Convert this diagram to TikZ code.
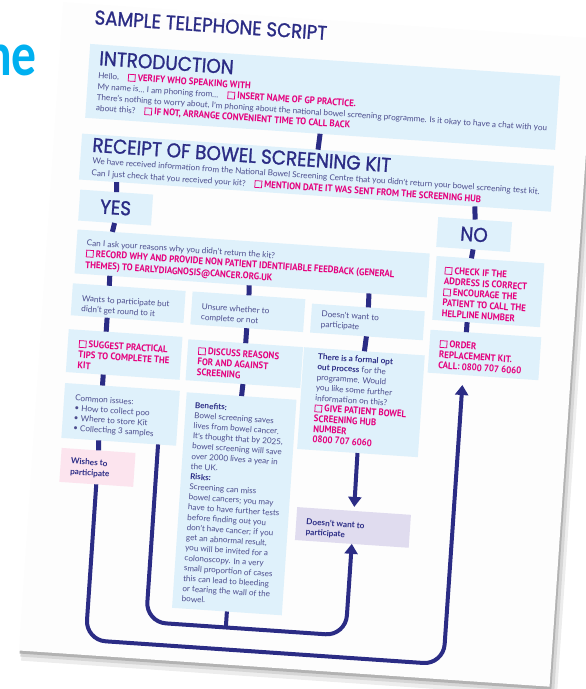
\documentclass[tikz,border=0pt]{standalone}
\usepackage{fontspec}
\setmainfont{Lato}
\newfontfamily\headfont{Poppins}[FakeStretch=0.92,FakeBold=1.2]
\newfontfamily\pinkfont{PT Sans}[FakeStretch=0.92]
\newfontfamily\slidefont{Carlito}[FakeStretch=0.8]
\usetikzlibrary{arrows.meta,calc}
\definecolor{navy}{HTML}{2B2C85}
\definecolor{bodytxt}{HTML}{4D4E8E}
\definecolor{pinktxt}{HTML}{E5007D}
\definecolor{boxblue}{HTML}{DFF1FB}
\definecolor{wishpink}{HTML}{FCE4EE}
\definecolor{lavbox}{HTML}{E0DCEF}
\definecolor{slidecyan}{HTML}{00B0F0}
\definecolor{paperwhite}{HTML}{FDFDFD}
\newcommand\chkbox{{\fboxsep=0pt\fboxrule=0.75pt\fbox{\rule{0pt}{6pt}\hspace{6pt}}}}
\newcommand\bodyfnt{\fontsize{8.2}{10.4}\selectfont}
\newcommand\pkfnt{\pinkfont\bfseries\fontsize{9.6}{10.8}\selectfont}
\newcommand\pk[1]{{\color{pinktxt}\pkfnt #1}}
\newcommand\nb[1]{{\bfseries\color{navy}#1}}
\tikzset{
  box/.style={fill=boxblue, inner sep=0pt, outer sep=0pt, anchor=north west, draw=none,
    text=navy, font=\headfont\fontsize{20}{20}\selectfont},
  stub/.style={navy, line width=5pt},
  flow/.style={navy, line width=4pt, rounded corners=20pt},
  arr/.style={-{Triangle[width=13pt,length=10pt]}},
  txt/.style={inner sep=0pt, anchor=base west, font=\bodyfnt, text=bodytxt},
  mtxt/.style={inner sep=0pt, anchor=north west, align=left, font=\bodyfnt, text=bodytxt},
  ptxt/.style={inner sep=0pt, anchor=north west, align=left, font=\pkfnt, text=pinktxt},
  headtxt/.style={inner sep=0pt, anchor=base west, text=navy, font=\headfont\fontsize{20}{20}\selectfont}
}
\begin{document}
\begin{tikzpicture}[x=1pt,y=-1pt]
\useasboundingbox (0,0) rectangle (586,689);
\node[anchor=base east, inner sep=0pt, font=\slidefont\bfseries\fontsize{62}{62}\selectfont, text=slidecyan] (ne) at (37,75) {ne};
\begin{scope}[shift={(63,2)}, rotate=-3.9, transform shape]
  % paper and its shadow
  \fill[black!7] (3,5) rectangle (540,660);
  \fill[black!16] (2,3) rectangle (537,656);
  \fill[black!30] (1,1) rectangle (534,653);
  \fill[paperwhite] (0,0) rectangle (532,650);
  % title
  \node[headtxt, font=\headfont\fontsize{19.8}{19.8}\selectfont] (title) at (32.5,20) {SAMPLE TELEPHONE SCRIPT};
  % boxes
  \node[box,minimum width=471,minimum height=74] (intro) at (30,40) {};
  \node[box,minimum width=473,minimum height=46] (receipt) at (28,130) {};
  \node[box,minimum width=73,minimum height=31] (yes) at (30,186) {YES};
  \node[box,minimum width=74,minimum height=30] (no) at (389,189) {NO};
  \node[box,minimum width=353,minimum height=44] (reasons) at (30,226) {};
  \node[box,minimum width=108,minimum height=64] (check) at (390,228) {};
  \node[box,minimum width=111,minimum height=43] (order) at (389,302) {};
  \node[box,minimum width=113,minimum height=32] (wants) at (29,280) {};
  \node[box,minimum width=113,minimum height=33] (unsure) at (149,280) {};
  \node[box,minimum width=113,minimum height=29] (doesnt) at (269,284) {};
  \node[box,minimum width=114,minimum height=43] (suggest) at (28,326) {};
  \node[box,minimum width=115,minimum height=41] (discuss) at (148,328) {};
  \node[box,minimum width=121,minimum height=102] (optout) at (264,328) {};
  \node[box,minimum width=115,minimum height=55] (common) at (28,380) {};
  \node[box,minimum width=110,minimum height=216] (benefits) at (150,381) {};
  \node[box,fill=wishpink,minimum width=74,minimum height=34] (wishes) at (29,445) {};
  \node[box,fill=lavbox,minimum width=114,minimum height=33] (notpart) at (268,488) {};
  % texts
  \node[headtxt] (introhead) at (40,60.5) {INTRODUCTION};
  \node[txt] (introA) at (40,74) {Hello,\hspace{9pt}\pk{\chkbox\ VERIFY WHO SPEAKING WITH}};
  \node[txt] (introB) at (40,84.8) {My name is… I am phoning from…\hspace{9pt}\pk{\chkbox\ INSERT NAME OF GP PRACTICE.}};
  \node[txt] (introC) at (40,95.6) {There’s nothing to worry about, I’m phoning about the national bowel screening programme. Is it okay to have a chat with you};
  \node[txt] (introD) at (40,106.4) {about this?\hspace{9pt}\pk{\chkbox\ IF NOT, ARRANGE CONVENIENT TIME TO CALL BACK}};
  \node[headtxt] (rechead) at (39,147.5) {RECEIPT OF BOWEL SCREENING KIT};
  \node[txt] (recA) at (40,159.5) {We have received information from the National Bowel Screening Centre that you didn’t return your bowel screening test kit.};
  \node[txt] (recB) at (40,171.5) {Can I just check that you received your kit?\hspace{9pt}\pk{\chkbox\ MENTION DATE IT WAS SENT FROM THE SCREENING HUB}};
  \node[txt] (reasA) at (40,241.5) {Can I ask your reasons why you didn’t return the kit?};
  \node[txt] (reasB) at (40,252.3) {\pk{\chkbox\ RECORD WHY AND PROVIDE NON PATIENT IDENTIFIABLE FEEDBACK (GENERAL}};
  \node[txt] (reasC) at (40,264) {\pk{THEMES) TO EARLYDIAGNOSIS@CANCER.ORG.UK}};
  \node[ptxt] (checkt) at (399,238) {\chkbox\ CHECK IF THE\\ADDRESS IS CORRECT\\\chkbox\ ENCOURAGE THE\\PATIENT TO CALL THE\\HELPLINE NUMBER};
  \node[ptxt] (ordert) at (399,311.5) {\chkbox\ ORDER\\REPLACEMENT KIT.\\CALL: 0800 707 6060};
  \node[mtxt] (wantst) at (39,291) {Wants to participate but\\didn’t get round to it};
  \node[mtxt] (unsuret) at (159,291) {Unsure whether to\\complete or not};
  \node[mtxt] (doesntt) at (279,290) {Doesn’t want to\\participate};
  \node[ptxt] (suggestt) at (39,336) {\chkbox\ SUGGEST PRACTICAL\\TIPS TO COMPLETE THE\\KIT};
  \node[ptxt] (discusst) at (158.5,335) {\chkbox\ DISCUSS REASONS\\FOR AND AGAINST\\SCREENING};
  \node[mtxt] (optoutt) at (278.5,333) {\nb{There is a formal opt}\\\nb{out process} for the\\programme. Would\\you like some further\\information on this?\\\pk{\chkbox\ GIVE PATIENT BOWEL}\\\pk{SCREENING HUB}\\\pk{NUMBER}\\\pk{0800 707 6060}};
  \node[mtxt, font=\fontsize{8.2}{10}\selectfont] (commont) at (39,391) {Common issues:\\• How to collect poo\\• Where to store Kit\\• Collecting 3 samples};
  \node[mtxt, font=\fontsize{8.1}{10.2}\selectfont] (benefitst) at (159,390) {\nb{Benefits:}\\Bowel screening saves\\lives from bowel cancer.\\It’s thought that by 2025,\\bowel screening will save\\over 2000 lives a year in\\the UK.\\\nb{Risks:}\\Screening can miss\\bowel cancers; you may\\have to have further tests\\before finding out you\\don’t have cancer; if you\\get an abnormal result,\\you will be invited for a\\colonoscopy. In a very\\small proportion of cases\\this can lead to bleeding\\or tearing the wall of the\\bowel.};
  \node[mtxt, text=navy, font=\bfseries\fontsize{8.2}{10.6}\selectfont] (wishest) at (39,454) {Wishes to\\participate};
  \node[mtxt, text=navy, font=\bfseries\fontsize{8.2}{10}\selectfont] (notpartt) at (278,498.5) {Doesn’t want to\\participate};
  % connector stubs
  \draw[stub] (intro.south) -- (receipt.north);
  \draw[stub] ($(receipt.south west)!0.080!(receipt.south east)$) -- (yes.north);
  \draw[stub] ($(receipt.south west)!0.839!(receipt.south east)$) -- (no.north);
  \draw[stub] (yes.south) -- ($(reasons.north west)!0.099!(reasons.north east)$);
  \draw[stub] (no.south) -- ($(check.north west)!0.324!(check.north east)$);
  \draw[stub] ($(check.south west)!0.324!(check.south east)$) -- ($(order.north west)!0.324!(order.north east)$);
  \draw[stub] ($(reasons.south west)!0.10!(reasons.south east)$) -- ($(wants.north west)!0.323!(wants.north east)$);
  \draw[stub] ($(reasons.south west)!0.496!(reasons.south east)$) -- (unsure.north);
  \draw[stub] ($(reasons.south west)!0.836!(reasons.south east)$) -- (doesnt.north);
  \draw[stub] ($(wants.south west)!0.323!(wants.south east)$) -- ($(suggest.north west)!0.329!(suggest.north east)$);
  \draw[stub] (unsure.south) -- (discuss.north);
  \draw[stub] (doesnt.south) -- (optout.north);
  \draw[stub] ($(suggest.south west)!0.329!(suggest.south east)$) -- ($(common.north west)!0.326!(common.north east)$);
  \draw[stub] (discuss.south) -- (benefits.north);
  \draw[stub] ($(common.south west)!0.326!(common.south east)$) -- (wishes.north);
  % loops
  \coordinate (inBL) at (125,613);
  \coordinate (inJ) at (205,613);
  \coordinate (inBR) at (325,613);
  \coordinate (outBL) at (66,635);
  \coordinate (outBR) at (424.5,635);
  \draw[flow,arr] ($(common.south west)!0.843!(common.south east)$) -- (inBL) -- (inBR) -- (notpart.south);
  \draw[navy, line width=4pt] (benefits.south) -- (inJ);
  \draw[flow,arr,shorten >=10pt] (wishes.south) -- (outBL) -- (outBR) -- ($(order.south west)!0.32!(order.south east)$);
  \draw[flow,arr,shorten >=4pt] (optout.south) -- (notpart.north);
\end{scope}
\end{tikzpicture}
\end{document}
